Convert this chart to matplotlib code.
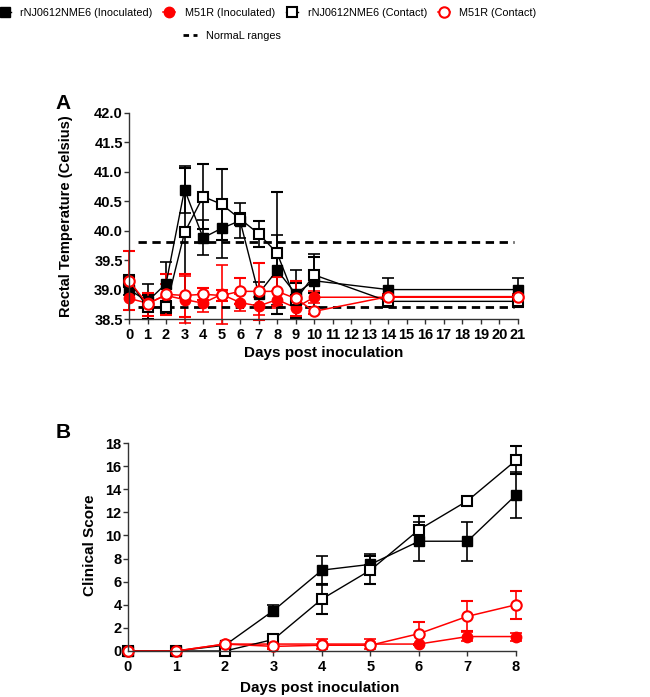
import matplotlib
matplotlib.use("Agg")
import matplotlib.pyplot as plt
from matplotlib import font_manager
from matplotlib.lines import Line2D

plt.rcParams['font.family'] = ['Liberation Sans', 'DejaVu Sans']

# Panel A - rectal temperature
days_a = [0, 1, 2, 3, 4, 5, 6, 7, 8, 9, 10, 14, 21]
rnj_inoc_t = [39.0, 38.8, 39.1, 40.7, 39.88, 40.04, 40.17, 38.93, 39.33, 38.93, 39.15, 39.0, 39.0]
rnj_inoc_t_sd = [0.1, 0.3, 0.37, 0.4, 0.3, 0.5, 0.3, 0.2, 0.6, 0.4, 0.45, 0.2, 0.2]
rnj_cont_t = [39.15, 38.7, 38.7, 39.97, 40.58, 40.45, 40.2, 39.95, 39.62, 38.82, 39.25, 38.8, 38.8]
rnj_cont_t_sd = [0.1, 0.2, 0.1, 1.1, 0.55, 0.6, 0.1, 0.22, 1.03, 0.3, 0.3, 0.1, 0.1]
m51_inoc_t = [38.85, 38.77, 38.9, 38.83, 38.77, 38.92, 38.78, 38.72, 38.83, 38.69, 38.87, 38.87, 38.87]
m51_inoc_t_sd = [0.2, 0.15, 0.2, 0.4, 0.15, 0.5, 0.15, 0.15, 0.15, 0.15, 0.1, 0.05, 0.05]
m51_cont_t = [39.15, 38.75, 38.92, 38.9, 38.92, 38.9, 38.97, 38.97, 38.97, 38.85, 38.63, 38.88, 38.88]
m51_cont_t_sd = [0.5, 0.2, 0.35, 0.37, 0.1, 0.1, 0.22, 0.48, 0.25, 0.3, 0.05, 0.05, 0.05]
normal_range = [38.7, 39.8]

# Panel B - clinical score
days_b = [0, 1, 2, 3, 4, 5, 6, 7, 8]
rnj_inoc_s = [0, 0, 0.5, 3.5, 7.0, 7.5, 9.5, 9.5, 13.5]
rnj_inoc_s_sd = [0, 0, 0, 0.5, 1.25, 0.9, 1.7, 1.7, 2.0]
rnj_cont_s = [0, 0, 0, 1.0, 4.5, 7.0, 10.5, 13.0, 16.5]
rnj_cont_s_sd = [0, 0, 0, 0.2, 1.3, 1.2, 1.2, 0.3, 1.2]
m51_inoc_s = [0, 0, 0.6, 0.6, 0.6, 0.6, 0.6, 1.25, 1.25]
m51_inoc_s_sd = [0, 0, 0, 0.3, 0.4, 0.4, 0, 0.4, 0.35]
m51_cont_s = [0, 0, 0.6, 0.4, 0.5, 0.5, 1.5, 3.0, 4.0]
m51_cont_s_sd = [0, 0, 0, 0.2, 0, 0, 1.0, 1.3, 1.2]

labels = ['rNJ0612NME6 (Inoculated)', 'M51R (Inoculated)',
          'rNJ0612NME6 (Contact)', 'M51R (Contact)']
styles = [
    dict(color='black', marker='s', mfc='black', ms=7, lw=1.0),
    dict(color='red', marker='o', mfc='red', ms=7.5, lw=1.1),
    dict(color='black', marker='s', mfc='white', ms=7, lw=1.0, mew=1.5),
    dict(color='red', marker='o', mfc='white', ms=7.5, lw=1.1, mew=1.5),
]

# legend text is narrow in the original
names = {f.name for f in font_manager.fontManager.ttflist}
if 'Liberation Sans Narrow' in names:
    leg_font = dict(family=['Liberation Sans Narrow', 'DejaVu Sans'], size=9.3)
else:
    leg_font = dict(family=['Liberation Sans', 'DejaVu Sans'], size=7.8)

fig = plt.figure(figsize=(6.5, 6.97), dpi=100)
ax_a = fig.add_axes([0.1985, 0.5423, 0.598, 0.2956])
ax_b = fig.add_axes([0.1969, 0.0660, 0.5969, 0.2984])


def draw(ax, x, series):
    for (y, sd), st in zip(series, styles):
        ax.errorbar(x, y, yerr=sd, capsize=4, capthick=1.2, elinewidth=1.2,
                    ecolor=st['color'], **st)
    for art in ax.get_children():
        art.set_clip_on(False)


draw(ax_a, days_a, [(rnj_inoc_t, rnj_inoc_t_sd), (m51_inoc_t, m51_inoc_t_sd),
                    (rnj_cont_t, rnj_cont_t_sd), (m51_cont_t, m51_cont_t_sd)])
ax_a.hlines(normal_range, 0.5, 20.8, colors='black', lw=2,
            linestyles=(0, (3.0, 2.0)))
draw(ax_b, days_b, [(rnj_inoc_s, rnj_inoc_s_sd), (m51_inoc_s, m51_inoc_s_sd),
                    (rnj_cont_s, rnj_cont_s_sd), (m51_cont_s, m51_cont_s_sd)])

ax_a.set_xlim(0, 21)
ax_a.set_ylim(38.5, 42.0)
ax_a.set_xticks(range(0, 22))
ax_a.set_yticks([38.5 + 0.5 * i for i in range(8)])
ax_a.set_yticklabels([f"{38.5 + 0.5 * i:.1f}" for i in range(8)])
ax_b.set_xlim(0, 8)
ax_b.set_ylim(0, 18)
ax_b.set_xticks(range(0, 9))
ax_b.set_yticks(range(0, 19, 2))

for ax in (ax_a, ax_b):
    for s in ('top', 'right'):
        ax.spines[s].set_visible(False)
    for s in ('left', 'bottom'):
        ax.spines[s].set_linewidth(1.0)
        ax.spines[s].set_color('#333333')
    ax.tick_params(length=3.5, width=1.0, color='#333333', labelsize=10.5, pad=1)
    for t in ax.get_xticklabels() + ax.get_yticklabels():
        t.set_fontweight('bold')

ax_a.tick_params(axis='x', pad=3)
ax_b.tick_params(axis='x', pad=3)

ax_a.set_ylabel('Rectal Temperature (Celsius)', fontsize=10.5, fontweight='bold')
ax_a.yaxis.set_label_coords(-0.162, 0.5)
ax_a.yaxis.label.set_va('center')
ax_a.set_xlabel('Days post inoculation', fontsize=11, fontweight='bold')
ax_a.xaxis.set_label_coords(0.5, -0.165)
ax_a.xaxis.label.set_va('center')

ax_b.set_ylabel('Clinical Score', fontsize=11, fontweight='bold')
ax_b.yaxis.set_label_coords(-0.098, 0.51)
ax_b.yaxis.label.set_va('center')
ax_b.set_xlabel('Days post inoculation', fontsize=11, fontweight='bold')
ax_b.xaxis.set_label_coords(0.495, -0.177)
ax_b.xaxis.label.set_va('center')

fig.text(0.085, 0.851, 'A', fontsize=15, fontweight='bold', va='center')
fig.text(0.085, 0.379, 'B', fontsize=15, fontweight='bold', va='center')

handles = [Line2D([], [], **st) for st in styles]
fig.legend(handles, labels, loc='upper left', bbox_to_anchor=(-0.012, 0.998),
           ncol=4, frameon=False, prop=leg_font, handlelength=1.1,
           handletextpad=0.9, columnspacing=1.0, borderaxespad=0.2)
dash = Line2D([], [], color='black', lw=2, linestyle=(0, (2.0, 1.6)))
fig.legend([dash], ['NormaL ranges'], loc='upper left',
           bbox_to_anchor=(0.272, 0.965), frameon=False, prop=leg_font,
           handlelength=1.3, handletextpad=0.8, borderaxespad=0.2)

fig.savefig('out.png', dpi=100)
